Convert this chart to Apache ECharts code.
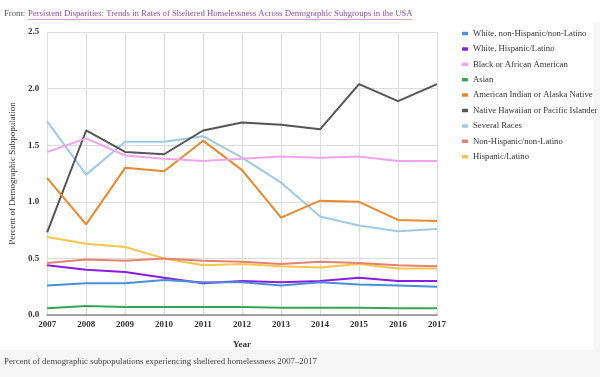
<!DOCTYPE html>
<html lang="en">
  <head>
    <meta charset="UTF-8" />
    <title>Sheltered Homelessness</title>
    <script src="https://cdn.jsdelivr.net/npm/echarts@6/dist/echarts.min.js"></script>
    <style>
      body { margin: 0; background: #f6f6f6; }
    </style>
  </head>

  <body>
    <div id="main" style="width: 600px; height: 377px"></div>

    <script>
      var years = ["2007", "2008", "2009", "2010", "2011", "2012", "2013", "2014", "2015", "2016", "2017"];
      var names = [
        "White, non-Hispanic/non-Latino",
        "White, Hispanic/Latino",
        "Black or African American",
        "Asian",
        "American Indian or Alaska Native",
        "Native Hawaiian or Pacific Islander",
        "Several Races",
        "Non-Hispanic/non-Latino",
        "Hispanic/Latino"
      ];
      var colors = ["#4a8fd8", "#8a1ee0", "#f0a4ee", "#3aa35a", "#e8892e", "#555555", "#9fc9e6", "#e3826f", "#f6c54c"];

      var whiteNonHisp = [0.26, 0.28, 0.28, 0.31, 0.29, 0.29, 0.26, 0.29, 0.27, 0.26, 0.25];
      var whiteHisp = [0.44, 0.40, 0.38, 0.33, 0.28, 0.30, 0.29, 0.30, 0.33, 0.30, 0.30];
      var black = [1.44, 1.56, 1.41, 1.38, 1.36, 1.38, 1.40, 1.39, 1.40, 1.36, 1.36];
      var asian = [0.06, 0.08, 0.07, 0.07, 0.07, 0.07, 0.065, 0.065, 0.065, 0.06, 0.06];
      var amIndian = [1.21, 0.80, 1.30, 1.27, 1.54, 1.28, 0.86, 1.01, 1.00, 0.84, 0.83];
      var nativeHawaiian = [0.73, 1.63, 1.44, 1.42, 1.63, 1.70, 1.68, 1.64, 2.04, 1.89, 2.04];
      var severalRaces = [1.71, 1.24, 1.53, 1.53, 1.58, 1.39, 1.17, 0.87, 0.79, 0.74, 0.76];
      var nonHisp = [0.46, 0.49, 0.48, 0.50, 0.48, 0.47, 0.45, 0.47, 0.46, 0.44, 0.43];
      var hisp = [0.69, 0.63, 0.60, 0.50, 0.44, 0.45, 0.43, 0.42, 0.45, 0.41, 0.41];

      var allValues = [whiteNonHisp, whiteHisp, black, asian, amIndian, nativeHawaiian, severalRaces, nonHisp, hisp];

      var myChart = echarts.init(document.getElementById("main"));
      var serif = "Liberation Serif, DejaVu Serif, serif";

      var series = names.map(function (n, i) {
        return {
          name: n,
          type: "line",
          data: allValues[i],
          symbol: "none",
          lineStyle: { width: 2, color: colors[i] },
          itemStyle: { color: colors[i] },
          z: 10 - i
        };
      });

      var option = {
        animation: false,
        textStyle: { fontFamily: serif },
        graphic: [
          { type: "rect", left: 0, top: 22, shape: { width: 594, height: 328 }, style: { fill: "#ffffff" }, z: -10 },
          { type: "rect", left: 0, top: 0, shape: { width: 600, height: 22 }, style: { fill: "#ffffff" }, z: -10 },
          {
            type: "text", left: 4, top: 9,
            style: { text: "From:", fill: "#555", font: "8.7px " + serif }
          },
          {
            type: "text", left: 28, top: 9,
            style: { text: "Persistent Disparities: Trends in Rates of Sheltered Homelessness Across Demographic Subgroups in the USA", fill: "#8d4fa6", font: "8.7px " + serif }
          },
          {
            type: "rect", left: 28, top: 19, shape: { width: 384, height: 0.8 }, style: { fill: "#b48cc4" }
          },
          {
            type: "text", left: 4, top: 357,
            style: { text: "Percent of demographic subpopulations experiencing sheltered homelessness 2007–2017", fill: "#444", font: "8.8px " + serif }
          }
        ],
        grid: { left: 44, right: 163, top: 32, bottom: 62 },
        legend: {
          orient: "vertical",
          left: 457,
          top: 24,
          itemWidth: 6,
          itemHeight: 3.5,
          itemGap: 6.4,
          icon: "roundRect",
          textStyle: { fontFamily: serif, fontSize: 8.7, color: "#333", padding: [0, 0, 0, 0] },
          data: names
        },
        xAxis: {
          type: "category",
          data: years,
          boundaryGap: false,
          name: "Year",
          nameLocation: "middle",
          nameGap: 25,
          nameTextStyle: { fontFamily: serif, fontSize: 9, fontWeight: "bold", color: "#333" },
          axisLine: { lineStyle: { color: "#888", width: 1.5 } },
          axisTick: { show: false },
          axisLabel: { fontFamily: serif, fontSize: 9, color: "#333", margin: 5, fontWeight: "bold" },
          splitLine: { show: true, lineStyle: { color: "#dcdcdc" } }
        },
        yAxis: {
          type: "value",
          min: 0,
          max: 2.5,
          interval: 0.5,
          name: "Percent of Demographic Subpopulation",
          nameLocation: "middle",
          nameGap: 30,
          nameTextStyle: { fontFamily: serif, fontSize: 9, color: "#333" },
          axisLine: { show: false },
          axisTick: { show: false },
          axisLabel: {
            fontFamily: serif, fontSize: 9, color: "#333", fontWeight: "bold",
            formatter: function (v) { return v.toFixed(1); }
          },
          splitLine: { lineStyle: { color: "#dcdcdc" } }
        },
        series: series
      };
      myChart.setOption(option);
    </script>
  </body>
</html>
